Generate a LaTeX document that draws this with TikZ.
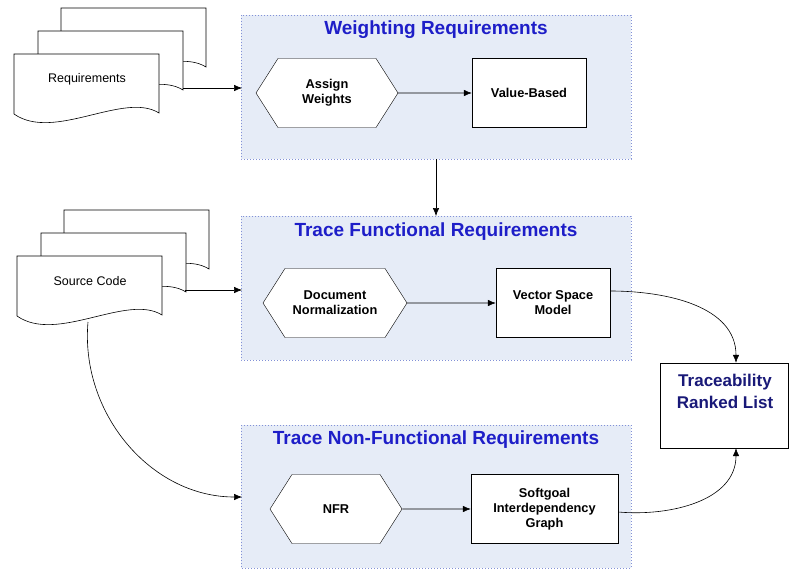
\documentclass[tikz,border=0pt]{standalone}
\usepackage{fontspec}
\setmainfont{Liberation Sans}
\usetikzlibrary{shapes.symbols,arrows.meta,positioning}

\definecolor{panelfill}{RGB}{230,236,247}
\definecolor{panelline}{RGB}{130,145,215}
\definecolor{titleblue}{RGB}{30,30,200}
\definecolor{navy}{RGB}{25,25,120}

\tikzset{
	panel/.style = {draw = panelline, dotted, line width = 1pt, fill = panelfill},
	paneltitle/.style = {text = titleblue, font = \fontsize{19}{21}\selectfont\bfseries},
	proc/.style = {draw, fill = white, signal, signal to = west and east, signal pointer angle = 115,
		minimum width = 142pt, minimum height = 69pt, inner sep = 0pt, align = center,
		font = \fontsize{12.8}{15}\selectfont\bfseries},
	result/.style = {draw, fill = white, minimum width = 114pt, minimum height = 69pt, align = center,
		font = \fontsize{12.8}{15}\selectfont\bfseries},
	flow/.style = {-{Latex[length = 8pt, width = 6.5pt]}, line width = 0.6pt}
}

% one document sheet, top left corner at #1
\newcommand{\docsheet}[1]{
	\draw[fill = white, line width = 0.6pt] (#1) -- ++(145,0) -- ++(0,59)
		.. controls +(-35,-22) and +(40,28) .. ++(-145,1) -- cycle;
}

\begin{document}
\begin{tikzpicture}[x = 1pt, y = -1pt]
	\useasboundingbox (0,0) rectangle (789,570);

	% panels
	\draw[panel] (241,15) rectangle (631,159);
	\draw[panel] (241,216) rectangle (631,360);
	\draw[panel] (241,425) rectangle (631,568);
	\node[paneltitle] (wtitle) at (436,30) {Weighting Requirements};
	\node[paneltitle] (ftitle) at (436,232) {Trace Functional Requirements};
	\node[paneltitle] (ntitle) at (436,440) {Trace Non-Functional Requirements};
	\coordinate (wbottom) at (436,159);
	\coordinate (ftop) at (436,216);
	\coordinate (win) at (242,88);
	\coordinate (fin) at (242,290);
	\coordinate (nin) at (242,497);

	% document stacks
	\docsheet{61,8}
	\docsheet{38,31}
	\docsheet{14,54}
	\node[font = \fontsize{12.5}{15}\selectfont] (req) at (87,79) {Requirements};
	\coordinate (reqout) at (183,88);

	\docsheet{64,210}
	\docsheet{41,233}
	\docsheet{17,256}
	\node[font = \fontsize{12.5}{15}\selectfont] (src) at (90,281) {Source Code};
	\coordinate (srcout) at (185,290);
	\coordinate (srcbottom) at (88,322);

	% processes
	\node[proc] (assign) at (327,93) {Assign\\Weights};
	\node[result] (value) at (529,93) {Value-Based};
	\node[proc, minimum width = 144pt] (norm) at (335,303) {Document\\Normalization};
	\node[result] (vsm) at (553,303) {Vector Space\\Model};
	\node[proc, minimum width = 132pt] (nfr) at (336,509) {NFR};
	\node[result, minimum width = 147pt] (sig) at (544.5,509) {Softgoal\\Interdependency\\Graph};

	\node[draw, fill = white, minimum width = 128pt, minimum height = 85pt] (rank) at (724,405.5) {};
	\node[text = navy, align = center, font = \fontsize{17}{22}\selectfont\bfseries] (ranktext) at (725,391) {Traceability\\Ranked List};

	% connectors
	\draw[flow] (reqout) -- (win);
	\draw[flow] (srcout) -- (fin);
	\draw[flow] (wbottom) -- (ftop);
	\draw[flow] (assign) -- (value);
	\draw[flow] (norm) -- (vsm);
	\draw[flow] (nfr) -- (sig);
	\draw[flow] (srcbottom) to[out = -95, in = 180] (nin);
	\draw[flow] (vsm.east |- 0,291) to[out = 0, in = 90] (rank.north -| 736,0);
	\draw[flow] (sig.east |- 0,512) to[out = -5, in = -90] (rank.south -| 736,0);
\end{tikzpicture}
\end{document}
